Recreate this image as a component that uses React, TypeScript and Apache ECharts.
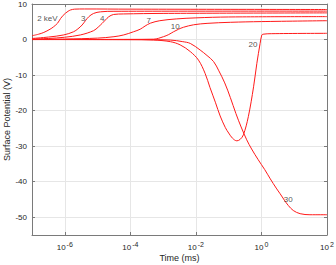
import React, { useEffect, useRef } from "react";
import * as echarts from "echarts";

// x values are log10(time in ms)
const xTicks = [-6, -4, -2, 0, 2];
const yTicks = [-50, -40, -30, -20, -10, 0, 10];

const kev2 = [[-7, 1.07], [-6.8, 1.5], [-6.64, 2.0], [-6.45, 2.9], [-6.34, 3.6], [-6.22, 4.6], [-6.13, 5.9], [-6.05, 6.8], [-5.98, 7.4], [-5.9, 7.95], [-5.83, 8.3], [-5.7, 8.55], [-5.4, 8.6], [-4, 8.55], [2, 8.45]];
const kev3 = [[-7, 0.3], [-6.5, 0.7], [-6.03, 1.3], [-5.73, 2.2], [-5.6, 3.0], [-5.47, 4.1], [-5.37, 5.3], [-5.27, 6.4], [-5.12, 7.35], [-4.91, 7.8], [-4.5, 7.95], [2, 8.0]];
const kev4 = [[-7, 0.15], [-6.5, 0.3], [-6, 0.65], [-5.52, 1.3], [-5.12, 2.5], [-4.98, 3.5], [-4.86, 4.55], [-4.76, 5.5], [-4.66, 6.4], [-4.51, 7.05], [-4.21, 7.2], [-3, 7.35], [2, 7.5]];
const kev7 = [[-7, 0.05], [-6, 0.15], [-5, 0.4], [-4.5, 0.8], [-4.2, 1.3], [-3.9, 2.2], [-3.7, 2.9], [-3.55, 3.8], [-3.39, 4.6], [-3.1, 5.3], [-2.6, 5.8], [-2, 6.1], [-1, 6.35], [2, 6.45]];
const kev10 = [[-7, 0], [-4, 0.05], [-3.29, 0.1], [-2.99, 0.8], [-2.83, 1.4], [-2.68, 2.2], [-2.53, 2.9], [-2.38, 3.45], [-2.07, 4.15], [-1.66, 4.55], [-0.95, 4.85], [0, 5.05], [2, 5.3]];
const kev20 = [[-7, 0], [-4, -0.05], [-3.29, -0.15], [-2.78, -0.6], [-2.48, -1.5], [-2.17, -3.4], [-1.92, -5.8], [-1.72, -9.5], [-1.57, -13.5], [-1.4, -17.8], [-1.26, -21.5], [-1.1, -24.8], [-1.0, -26.3], [-0.88, -27.8], [-0.75, -28.5], [-0.65, -28.1], [-0.55, -26.8], [-0.4, -21.7], [-0.24, -13.3], [-0.14, -6.7], [-0.04, -1.07], [0.01, 1.26], [0.05, 1.5], [0.3, 1.65], [2, 1.75]];
const kev30 = [[-7, 0], [-4, 0], [-2.78, -0.15], [-2.4, -0.6], [-2.17, -1.1], [-1.87, -2.95], [-1.66, -4.5], [-1.46, -6.2], [-1.3, -8.8], [-1.12, -12.2], [-0.95, -16.3], [-0.78, -20.8], [-0.62, -24.6], [-0.45, -28.2], [-0.3, -30.8], [-0.1, -33.8], [0.1, -36.6], [0.27, -39.2], [0.45, -41.8], [0.57, -43.4], [0.7, -45.2], [0.82, -46.7], [0.97, -48.1], [1.18, -49.0], [1.48, -49.3], [2, -49.3]];

const curveList = [kev2, kev3, kev4, kev7, kev10, kev20, kev30];
const labelNames = ["2 keV", "3", "4", "7", "10", "20", "30"];
const labelX = [-6.53, -5.44, -4.86, -3.44, -2.63, -0.26, 0.82];
const labelY = [5.96, 5.96, 5.96, 5.28, 3.6, -1.26, -45.1];

const FONT = "'Liberation Sans', Arial, Helvetica, sans-serif";
const AXIS_COLOR = "#7a7a7a";
const TEXT_COLOR = "#262626";
const GRID_COLOR = "#e6e6e6";

export default function App() {
  const ref = useRef<HTMLDivElement>(null);
  useEffect(() => {
    if (!ref.current) return;
    const chart = echarts.init(ref.current, undefined, { renderer: "svg" });
    const baseX = {
      type: "value",
      min: -7,
      max: 2,
      axisLine: { show: true, onZero: false, lineStyle: { color: AXIS_COLOR, width: 1 } },
      axisTick: { show: true, inside: true, length: 3, customValues: xTicks, lineStyle: { color: AXIS_COLOR } },
    };
    const baseY = {
      type: "value",
      min: -55,
      max: 10,
      axisLine: { show: true, onZero: false, lineStyle: { color: AXIS_COLOR, width: 1 } },
      axisTick: { show: true, inside: true, length: 3, customValues: yTicks, lineStyle: { color: AXIS_COLOR } },
    };
    const option: any = {
      animation: false,
      backgroundColor: "#ffffff",
      textStyle: { fontFamily: FONT },
      grid: { left: 32, right: 9, top: 4, bottom: 30, containLabel: false, outerBoundsMode: "none" },
      xAxis: [
        {
          ...baseX,
          position: "bottom",
          name: "Time (ms)",
          nameLocation: "middle",
          nameGap: 18,
          nameMoveOverlap: false,
          nameTextStyle: { color: TEXT_COLOR, fontSize: 9, fontFamily: FONT },
          splitLine: { show: true, lineStyle: { color: GRID_COLOR, width: 1 } },
          axisLabel: {
            show: true,
            customValues: xTicks,
            margin: 6,
            color: TEXT_COLOR,
            fontFamily: FONT,
            formatter: (v: number) => `{b|10}{s|${Math.round(v)}}`,
            rich: {
              b: { fontSize: 8, color: TEXT_COLOR, fontFamily: FONT, padding: [0, 1, 0, 0] },
              s: { fontSize: 7, color: TEXT_COLOR, fontFamily: FONT, verticalAlign: "top", padding: [0, 0, 5, 0] },
            },
          },
        },
        {
          ...baseX,
          position: "top",
          splitLine: { show: false },
          axisLabel: { show: false },
        },
      ],
      yAxis: [
        {
          ...baseY,
          position: "left",
          name: "Surface Potential (V)",
          nameLocation: "middle",
          nameGap: 21,
          nameMoveOverlap: false,
          nameTextStyle: { color: TEXT_COLOR, fontSize: 9, fontFamily: FONT },
          splitLine: { show: true, lineStyle: { color: GRID_COLOR, width: 1 } },
          axisLabel: { show: true, customValues: yTicks, margin: 5, color: TEXT_COLOR, fontSize: 8, fontFamily: FONT },
        },
        {
          ...baseY,
          position: "right",
          splitLine: { show: false },
          axisLabel: { show: false },
        },
      ],
      series: [
        ...curveList.map((d) => ({
          type: "line",
          data: d,
          showSymbol: false,
          smooth: 0.35,
          lineStyle: { color: "#ff1a1a", width: 1 },
          itemStyle: { color: "#ff1a1a" },
          z: 3,
        })),
        {
          type: "scatter",
          symbolSize: 1,
          itemStyle: { color: "rgba(0,0,0,0)" },
          z: 5,
          data: labelNames.map((n, i) => ({ name: n, value: [labelX[i], labelY[i]] })),
          label: {
            show: true,
            position: "inside",
            formatter: (p: any) => p.name,
            color: TEXT_COLOR,
            fontSize: 8,
            fontFamily: FONT,
          },
        },
      ],
    };
    chart.setOption(option);
    return () => chart.dispose();
  }, []);
  return <div ref={ref} style={{ position: "fixed", left: 0, top: 0, width: 336, height: 265 }} />;
}
